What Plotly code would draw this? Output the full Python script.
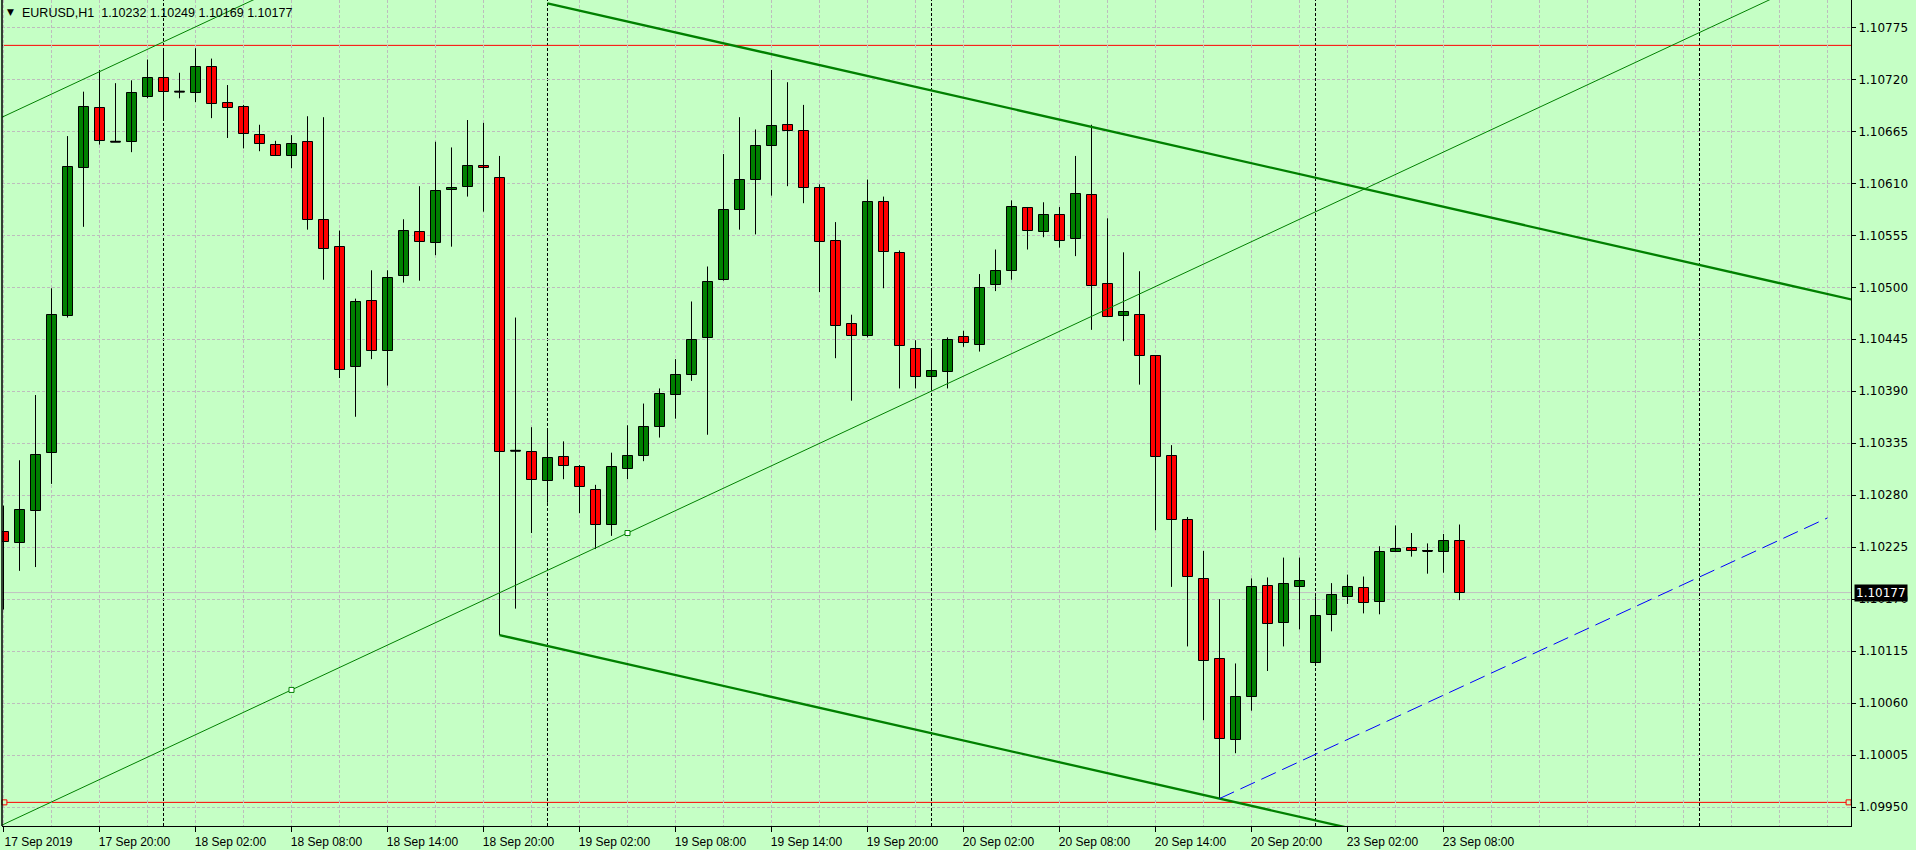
import plotly.graph_objects as go

# ---------------- data ----------------
chart_title = "EURUSD,H1  1.10232 1.10249 1.10169 1.10177"

opens = [1.10241, 1.10229, 1.10263, 1.10325, 1.10470, 1.10626, 1.10690, 1.10654, 1.10654, 1.10701,
         1.10722, 1.10707, 1.10706, 1.10733, 1.10695, 1.10691, 1.10661, 1.10651, 1.10639, 1.10654,
         1.10571, 1.10543, 1.10416, 1.10485, 1.10433, 1.10512, 1.10558, 1.10547, 1.10603, 1.10606,
         1.10628, 1.10616, 1.10327, 1.10326, 1.10295, 1.10320, 1.10310, 1.10286, 1.10248, 1.10308,
         1.10322, 1.10352, 1.10386, 1.10407, 1.10446, 1.10508, 1.10582, 1.10614, 1.10650, 1.10672,
         1.10665, 1.10605, 1.10549, 1.10461, 1.10449, 1.10590, 1.10536, 1.10435, 1.10405, 1.10410,
         1.10447, 1.10439, 1.10502, 1.10517, 1.10584, 1.10559, 1.10577, 1.10551, 1.10598, 1.10503,
         1.10470, 1.10471, 1.10427, 1.10321, 1.10254, 1.10191, 1.10107, 1.10021, 1.10067, 1.10184,
         1.10145, 1.10183, 1.10102, 1.10153, 1.10172, 1.10182, 1.10167, 1.10220, 1.10224, 1.10221,
         1.10220, 1.10232]
highs = [1.10269, 1.10317, 1.10386, 1.10499, 1.10660, 1.10707, 1.10730, 1.10716, 1.10719, 1.10741,
         1.10753, 1.10727, 1.10753, 1.10742, 1.10714, 1.10693, 1.10672, 1.10655, 1.10661, 1.10681,
         1.10680, 1.10560, 1.10488, 1.10518, 1.10518, 1.10572, 1.10607, 1.10654, 1.10648, 1.10677,
         1.10674, 1.10639, 1.10468, 1.10352, 1.10351, 1.10337, 1.10312, 1.10291, 1.10325, 1.10354,
         1.10377, 1.10393, 1.10424, 1.10485, 1.10522, 1.10641, 1.10680, 1.10667, 1.10730, 1.10717,
         1.10693, 1.10609, 1.10569, 1.10471, 1.10614, 1.10596, 1.10539, 1.10444, 1.10434, 1.10447,
         1.10454, 1.10514, 1.10540, 1.10592, 1.10585, 1.10590, 1.10585, 1.10639, 1.10672, 1.10573,
         1.10537, 1.10517, 1.10428, 1.10333, 1.10257, 1.10221, 1.10170, 1.10102, 1.10192, 1.10193,
         1.10214, 1.10214, 1.10173, 1.10187, 1.10196, 1.10194, 1.10226, 1.10248, 1.10240, 1.10229,
         1.10239, 1.10249]
lows = [1.10159, 1.10200, 1.10204, 1.10292, 1.10468, 1.10564, 1.10651, 1.10654, 1.10643, 1.10700,
        1.10677, 1.10700, 1.10696, 1.10679, 1.10658, 1.10647, 1.10644, 1.10639, 1.10626, 1.10561,
        1.10508, 1.10404, 1.10363, 1.10424, 1.10396, 1.10505, 1.10507, 1.10534, 1.10543, 1.10596,
        1.10580, 1.10132, 1.10160, 1.10240, 1.10272, 1.10297, 1.10261, 1.10223, 1.10237, 1.10297,
        1.10316, 1.10341, 1.10361, 1.10401, 1.10344, 1.10507, 1.10561, 1.10556, 1.10597, 1.10607,
        1.10589, 1.10495, 1.10425, 1.10380, 1.10447, 1.10499, 1.10393, 1.10393, 1.10393, 1.10393,
        1.10437, 1.10432, 1.10496, 1.10508, 1.10540, 1.10553, 1.10542, 1.10533, 1.10455, 1.10469,
        1.10443, 1.10397, 1.10243, 1.10183, 1.10120, 1.10042, 1.09959, 1.10007, 1.10052, 1.10094,
        1.10120, 1.10138, 1.10100, 1.10136, 1.10165, 1.10155, 1.10154, 1.10220, 1.10215, 1.10197,
        1.10198, 1.10169]
closes = [1.10230, 1.10264, 1.10323, 1.10471, 1.10627, 1.10691, 1.10655, 1.10654, 1.10706, 1.10721,
          1.10707, 1.10707, 1.10733, 1.10694, 1.10690, 1.10662, 1.10652, 1.10639, 1.10652, 1.10571,
          1.10541, 1.10413, 1.10484, 1.10433, 1.10510, 1.10560, 1.10548, 1.10602, 1.10605, 1.10628,
          1.10626, 1.10326, 1.10327, 1.10296, 1.10319, 1.10311, 1.10289, 1.10249, 1.10310, 1.10322,
          1.10352, 1.10387, 1.10407, 1.10444, 1.10506, 1.10582, 1.10614, 1.10649, 1.10671, 1.10665,
          1.10605, 1.10548, 1.10459, 1.10448, 1.10590, 1.10537, 1.10438, 1.10405, 1.10411, 1.10444,
          1.10441, 1.10499, 1.10517, 1.10585, 1.10560, 1.10577, 1.10549, 1.10599, 1.10501, 1.10469,
          1.10474, 1.10427, 1.10320, 1.10254, 1.10194, 1.10105, 1.10022, 1.10067, 1.10183, 1.10144,
          1.10186, 1.10189, 1.10152, 1.10174, 1.10183, 1.10166, 1.10220, 1.10223, 1.10221, 1.10221,
          1.10232, 1.10177]

x_tick_bar = [0, 6, 12, 18, 24, 30, 36, 42, 48, 54, 60, 66, 72, 78, 84, 90]
x_tick_labels = ["17 Sep 2019", "17 Sep 20:00", "18 Sep 02:00", "18 Sep 08:00", "18 Sep 14:00",
                 "18 Sep 20:00", "19 Sep 02:00", "19 Sep 08:00", "19 Sep 14:00", "19 Sep 20:00",
                 "20 Sep 02:00", "20 Sep 08:00", "20 Sep 14:00", "20 Sep 20:00", "23 Sep 02:00",
                 "23 Sep 08:00"]
day_start_bar = [10, 34, 58, 82, 106]

price_ticks = [1.10775, 1.10720, 1.10665, 1.10610, 1.10555, 1.10500, 1.10445, 1.10390,
               1.10335, 1.10280, 1.10225, 1.10170, 1.10115, 1.10060, 1.10005, 1.09950]

bid_price = 1.10177
upper_level = 1.10756
lower_level = 1.09955

thin_channel_bar = [18, 39]
thin_channel_price = [1.10074, 1.10240]
thin_channel_width = 0.00749

thick_channel_bar = [31, 76]
thick_channel_price = [1.10132, 1.09959]
thick_channel_width = 0.00680
thick_channel_upper_start_bar = 34

blue_line_bar = [76, 114]
blue_line_price = [1.09959, 1.10256]

# ---------------- styling ----------------
BG = "#C5FFC5"
GRID = "#BDBDBD"
UP = "#008000"
DOWN = "#FF0000"
W, H = 1916, 850
M_L, M_R, M_T, M_B = 2, 65, 0, 24
PLOT_W = W - M_L - M_R
PLOT_H = H - M_T - M_B
BAR_PX = 16.0
X0 = -1.5 / BAR_PX
X_RANGE = [X0, X0 + PLOT_W / BAR_PX]
Y_RANGE = [1.09930, 1.10804]

n = len(opens)
idx = list(range(n))

fig = go.Figure()

# wicks
wx, wy = [], []
for i in idx:
    wx += [i, i, None]
    wy += [lows[i], highs[i], None]
fig.add_trace(go.Scatter(x=wx, y=wy, mode="lines", line=dict(color="black", width=1),
                         hoverinfo="skip", showlegend=False))

# bodies
body_base = [min(o, c) for o, c in zip(opens, closes)]
body_len = [abs(c - o) for o, c in zip(opens, closes)]
body_col = [UP if c > o else DOWN for o, c in zip(opens, closes)]
fig.add_trace(go.Bar(x=idx, y=body_len, base=body_base, width=0.625,
                     marker=dict(color=body_col, line=dict(color="black", width=1)),
                     hoverinfo="skip", showlegend=False))

# doji bars (open == close)
dx, dy = [], []
for i in idx:
    if abs(opens[i] - closes[i]) < 1e-9:
        dx += [i - 0.3125, i + 0.3125, None]
        dy += [opens[i], opens[i], None]
fig.add_trace(go.Scatter(x=dx, y=dy, mode="lines", line=dict(color="black", width=2),
                         hoverinfo="skip", showlegend=False))


def line_at(bars, prices, x):
    slope = (prices[1] - prices[0]) / (bars[1] - bars[0])
    return prices[0] + slope * (x - bars[0])


# thin rising channel
tx = [-1, 117]
fig.add_trace(go.Scatter(x=tx, y=[line_at(thin_channel_bar, thin_channel_price, v) for v in tx],
                         mode="lines", line=dict(color=UP, width=1), hoverinfo="skip", showlegend=False))
fig.add_trace(go.Scatter(x=tx, y=[line_at(thin_channel_bar, thin_channel_price, v) + thin_channel_width for v in tx],
                         mode="lines", line=dict(color=UP, width=1), hoverinfo="skip", showlegend=False))
fig.add_trace(go.Scatter(x=thin_channel_bar, y=thin_channel_price, mode="markers",
                         marker=dict(symbol="square", size=5, color="white", line=dict(color=UP, width=1)),
                         hoverinfo="skip", showlegend=False))

# thick falling channel
kx = [thick_channel_bar[0], 117]
fig.add_trace(go.Scatter(x=kx, y=[line_at(thick_channel_bar, thick_channel_price, v) for v in kx],
                         mode="lines", line=dict(color=UP, width=2.3), hoverinfo="skip", showlegend=False))
ux = [thick_channel_upper_start_bar, 117]
fig.add_trace(go.Scatter(x=ux, y=[line_at(thick_channel_bar, thick_channel_price, v) + thick_channel_width for v in ux],
                         mode="lines", line=dict(color=UP, width=2.3), hoverinfo="skip", showlegend=False))

# blue dashed trend line
fig.add_trace(go.Scatter(x=blue_line_bar, y=blue_line_price, mode="lines",
                         line=dict(color="#0000FF", width=1, dash="16px,7px"),
                         hoverinfo="skip", showlegend=False))

# end handles of the lower horizontal line
fig.add_trace(go.Scatter(x=[X_RANGE[0] + 0.15, X_RANGE[1] - 0.15], y=[lower_level, lower_level],
                         mode="markers",
                         marker=dict(symbol="square", size=5, color=BG, line=dict(color=DOWN, width=1)),
                         hoverinfo="skip", showlegend=False, cliponaxis=False))

shapes = []
for d in day_start_bar:
    shapes.append(dict(type="line", xref="x", yref="paper", x0=d, x1=d, y0=0, y1=1,
                       line=dict(color="black", width=1, dash="3px,2px"), layer="between"))
for lvl in [upper_level, lower_level]:
    shapes.append(dict(type="line", xref="paper", yref="y", x0=0, x1=1, y0=lvl, y1=lvl,
                       line=dict(color=DOWN, width=1), layer="between"))
shapes.append(dict(type="line", xref="paper", yref="y", x0=0, x1=1, y0=bid_price, y1=bid_price,
                   line=dict(color="#C0C0C0", width=1), layer="between"))
shapes.append(dict(type="line", xref="paper", yref="paper", x0=0, x1=0, y0=0, y1=1,
                   line=dict(color="black", width=1.5), layer="above"))

annotations = [
    dict(text=chart_title, xref="paper", yref="paper", x=(20 - M_L) / PLOT_W, y=1 - 13 / PLOT_H,
         xanchor="left", yanchor="middle", showarrow=False,
         font=dict(family="Liberation Sans, Arial", size=12.5, color="black")),
    dict(text="▼", xref="paper", yref="paper", x=(10 - M_L) / PLOT_W, y=1 - 12 / PLOT_H,
         xanchor="center", yanchor="middle", showarrow=False,
         font=dict(family="DejaVu Sans", size=9, color="black")),
    dict(text=f"{bid_price:.5f}", xref="paper", yref="y", x=(1854 - M_L) / PLOT_W, y=bid_price,
         xanchor="left", yanchor="middle", showarrow=False, bgcolor="black", borderpad=1,
         font=dict(family="DejaVu Sans", size=12, color="white")),
]

fig.update_layout(
    width=W, height=H, autosize=False,
    margin=dict(l=M_L, r=M_R, t=M_T, b=M_B, pad=0),
    paper_bgcolor=BG, plot_bgcolor=BG,
    showlegend=False, hovermode=False, bargap=0,
    shapes=shapes, annotations=annotations,
    xaxis=dict(
        range=X_RANGE, tickmode="array", tickvals=x_tick_bar, ticktext=x_tick_labels,
        ticks="outside", ticklen=5, tickcolor="black", tickwidth=1,
        showgrid=True, gridcolor=GRID, griddash="3px,2px", gridwidth=1,
        minor=dict(tickmode="linear", tick0=0, dtick=3, showgrid=True, gridcolor=GRID,
                   griddash="3px,2px", gridwidth=1, ticks=""),
        showline=True, linecolor="black", linewidth=1, zeroline=False,
        tickfont=dict(family="Liberation Sans, Arial", size=12, color="black"),
        ticklabelshift=35, fixedrange=True,
    ),
    yaxis=dict(
        side="right", range=Y_RANGE, tickmode="array", tickvals=price_ticks,
        ticktext=[f"{p:.5f}" for p in price_ticks],
        ticks="outside", ticklen=4, tickcolor="black",
        showgrid=True, gridcolor=GRID, griddash="3px,2px", gridwidth=1,
        showline=True, linecolor="black", linewidth=1, zeroline=False,
        tickfont=dict(family="DejaVu Sans", size=12, color="black"), fixedrange=True,
    ),
)

fig.write_html("out.html", config={"displayModeBar": False},
               post_script="document.body.style.margin='0px';document.body.style.overflow='hidden';")
